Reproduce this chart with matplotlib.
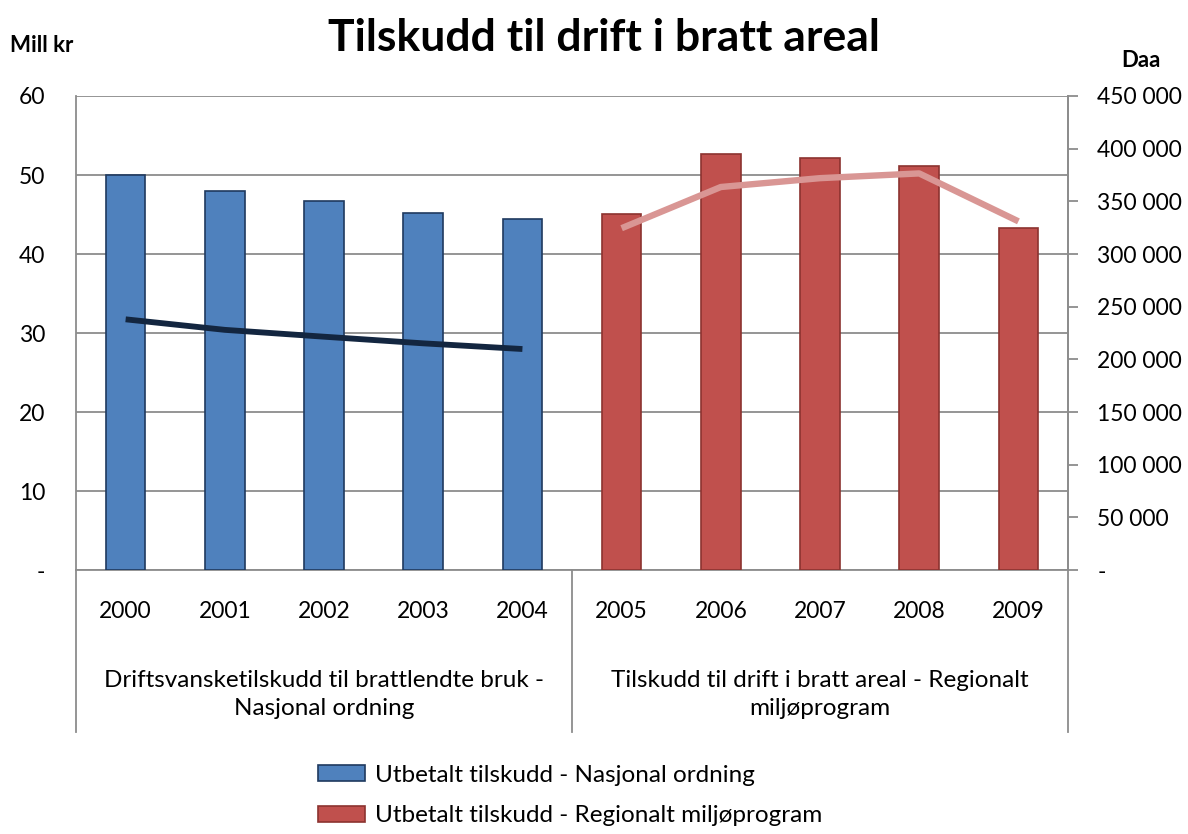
import matplotlib
matplotlib.use("Agg")
import matplotlib.pyplot as plt
import matplotlib.transforms as mtransforms
from matplotlib.patches import Patch
from matplotlib.ticker import FuncFormatter, MultipleLocator

plt.rcParams["font.family"] = ["Lato", "DejaVu Sans"]

years = ["2000", "2001", "2002", "2003", "2004", "2005", "2006", "2007", "2008", "2009"]
groups = ["Driftsvansketilskudd til brattlendte bruk -\nNasjonal ordning",
          "Tilskudd til drift i bratt areal - Regionalt\nmiljøprogram"]
payout_nasjonal = [50.0, 48.0, 46.7, 45.2, 44.4]
payout_regional = [45.1, 52.7, 52.2, 51.1, 43.3]
area_nasjonal = [238000, 228000, 221500, 215200, 209800]
area_regional = [324500, 363600, 372000, 376500, 331000]

GRID = "#8c8c8c"
TICK_FS = 16.5
TEXT_FS = 17.5

fig = plt.figure(figsize=(11.88, 8.34), dpi=100)
ax = fig.add_axes([0.064, 0.3165, 0.835, 0.5684])
ax2 = ax.twinx()

x_nas = list(range(len(payout_nasjonal)))
x_reg = [len(payout_nasjonal) + i for i in range(len(payout_regional))]

ax.bar(x_nas, payout_nasjonal, width=0.4, color="#4f81bd", edgecolor="#1f3a5f",
       linewidth=1.2, zorder=3)
ax.bar(x_reg, payout_regional, width=0.4, color="#c0504d", edgecolor="#8c3330",
       linewidth=1.2, zorder=3)

ax.set_xlim(-0.5, 9.5)
ax.set_ylim(0, 60)
ax.yaxis.set_major_locator(MultipleLocator(10))
ax.yaxis.set_major_formatter(FuncFormatter(lambda v, p: "-" if v == 0 else f"{v:.0f}"))
ax.grid(True, axis="y", color=GRID, linewidth=1.3, zorder=0)
ax.set_axisbelow(True)
ax.tick_params(axis="y", length=0, pad=22, labelsize=TICK_FS)
ax.set_xticks(range(len(years)))
ax.set_xticklabels(years, fontsize=TICK_FS)
ax.tick_params(axis="x", length=0, pad=22)
for s in ax.spines.values():
    s.set_color(GRID)
    s.set_linewidth(1.3)
ax.spines["top"].set_visible(False)

ax2.plot(x_nas, area_nasjonal, color="#132640", linewidth=4.2, solid_capstyle="butt", zorder=4)
ax2.plot(x_reg, area_regional, color="#d99694", linewidth=4.6, solid_capstyle="butt", zorder=4)
ax2.set_ylim(0, 450000)
ax2.yaxis.set_major_locator(MultipleLocator(50000))
ax2.yaxis.set_major_formatter(FuncFormatter(
    lambda v, p: "-" if v == 0 else f"{int(v):,}".replace(",", " ")))
ax2.tick_params(axis="y", length=7, width=1.3, color=GRID, pad=14, labelsize=TICK_FS)
for s in ax2.spines.values():
    s.set_visible(False)
ax2.spines["right"].set_visible(True)
ax2.spines["right"].set_color(GRID)
ax2.spines["right"].set_linewidth(1.3)

# multi-level category axis
trans = mtransforms.blended_transform_factory(ax.transData, ax.transAxes)
for xv in [-0.5, 4.5, 9.5]:
    ax.plot([xv, xv], [0, -0.342], transform=trans, color=GRID, linewidth=1.3,
            clip_on=False, zorder=5)
ax.text(2, -0.262, groups[0], transform=trans, ha="center", va="center",
        fontsize=TEXT_FS, linespacing=1.4)
ax.text(7, -0.262, groups[1], transform=trans, ha="center", va="center",
        fontsize=TEXT_FS, linespacing=1.4)

fig.text(0.508, 0.955, "Tilskudd til drift i bratt areal", ha="center", va="center",
         fontsize=32, fontweight="bold")
fig.text(0.008, 0.945, "Mill kr", ha="left", va="center", fontsize=16, fontweight="bold")
fig.text(0.944, 0.928, "Daa", ha="left", va="center", fontsize=16, fontweight="bold")

handles = [Patch(facecolor="#4f81bd", edgecolor="#1f3a5f", linewidth=1.2),
           Patch(facecolor="#c0504d", edgecolor="#8c3330", linewidth=1.2)]
labels = ["Utbetalt tilskudd - Nasjonal ordning", "Utbetalt tilskudd - Regionalt miljøprogram"]
fig.legend(handles, labels, loc="upper left", bbox_to_anchor=(0.2677, 0.083),
           frameon=False, fontsize=TEXT_FS, handlelength=1.95, handleheight=0.65,
           handletextpad=0.4, labelspacing=0.8, borderaxespad=0, borderpad=0)

fig.savefig("out.png", dpi=100)
